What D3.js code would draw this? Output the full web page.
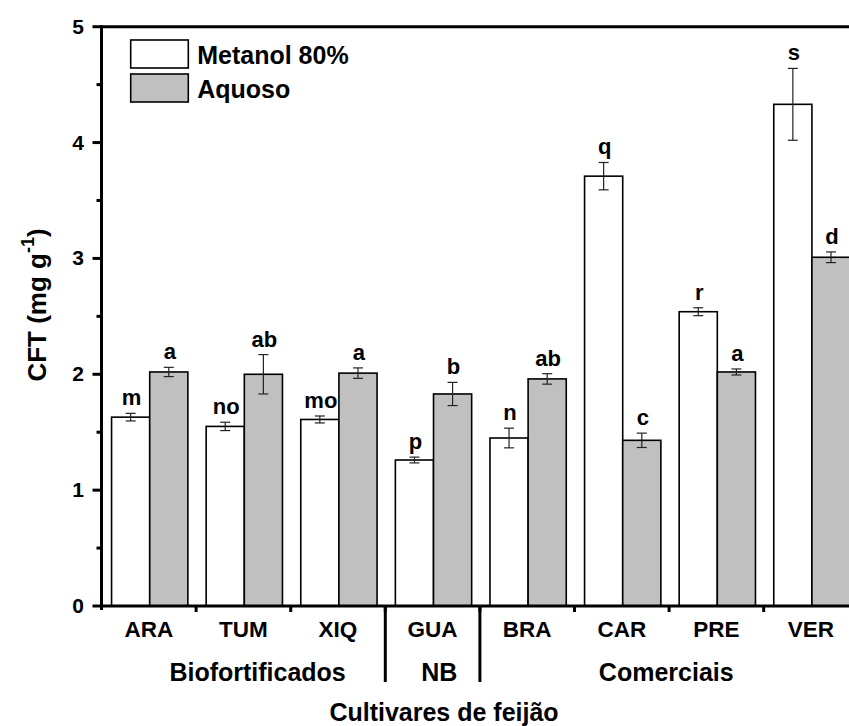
<!DOCTYPE html>
<html>
<head>
<meta charset="utf-8">
<script src="https://cdn.jsdelivr.net/npm/d3@7"></script>
<style>
  html, body { margin: 0; padding: 0; background: #fff; }
  svg { display: block; }
  text { font-family: "Liberation Sans", Arial, sans-serif; font-weight: bold; fill: #000; }
</style>
</head>
<body>
<svg id="chart" width="849" height="726"></svg>
<script>
// ---- data ----
const categories = ["ARA", "TUM", "XIQ", "GUA", "BRA", "CAR", "PRE", "VER"];
const seriesNames = ["Metanol 80%", "Aquoso"];
const metanol    = [1.63, 1.55, 1.61, 1.26, 1.45, 3.71, 2.54, 4.33];
const metanolErr = [0.033, 0.036, 0.030, 0.025, 0.085, 0.118, 0.034, 0.31];
const aquoso     = [2.02, 2.00, 2.01, 1.83, 1.96, 1.43, 2.02, 3.01];
const aquosoErr  = [0.040, 0.170, 0.045, 0.100, 0.045, 0.062, 0.026, 0.046];
const metanolLetters = ["m", "no", "mo", "p", "n", "q", "r", "s"];
const aquosoLetters  = ["a", "ab", "a", "b", "ab", "c", "a", "d"];
const groups      = ["Biofortificados", "NB", "Comerciais"];
const groupStart  = [0, 3, 4];
const groupEnd    = [3, 4, 8];
const groupAnchor = [1.65, 3.57, 5.97]; // label centre, in category units
const yTicks      = [0, 1, 2, 3, 4, 5];
const yMinorTicks = [0.5, 1.5, 2.5, 3.5, 4.5];
const xTitle = "Cultivares de feijão";

(function () {
// ---- layout ----
const svg = d3.select("#chart");
const pLeft = 101.5, pRight = 858.3, pTop = 26.7, pBottom = 606;

const x = d3.scaleBand().domain(categories).range([pLeft, pRight]).padding(0);
const xu = d3.scaleLinear().domain([0, categories.length]).range([pLeft, pRight]);
const xs = d3.scaleBand().domain(seriesNames).range([0, x.bandwidth()])
  .paddingInner(0).paddingOuter(0.24).align(0.55);
const y = d3.scaleLinear().domain([0, 5]).range([pBottom, pTop]);
const color = d3.scaleOrdinal().domain(seriesNames).range(["#ffffff", "#c0c0c0"]);

const rows = categories.map((c, i) => ({
  cat: c,
  bars: [
    { s: seriesNames[0], v: metanol[i], e: metanolErr[i], l: metanolLetters[i] },
    { s: seriesNames[1], v: aquoso[i], e: aquosoErr[i], l: aquosoLetters[i] }
  ]
}));

// bars
const g = svg.append("g");
const cat = g.selectAll("g.cat").data(rows).join("g")
  .attr("class", "cat")
  .attr("transform", d => `translate(${x(d.cat)},0)`);
cat.selectAll("rect").data(d => d.bars).join("rect")
  .attr("x", d => xs(d.s))
  .attr("y", d => y(d.v))
  .attr("width", xs.bandwidth())
  .attr("height", d => y(0) - y(d.v))
  .attr("fill", d => color(d.s))
  .attr("stroke", "#000")
  .attr("stroke-width", 1.6);

// error bars
const cx = d => xs(d.s) + xs.bandwidth() / 2;
const eb = cat.selectAll("g.err").data(d => d.bars).join("g")
  .attr("class", "err")
  .attr("stroke", "#222").attr("stroke-width", 1.2);
eb.append("line")
  .attr("x1", cx).attr("x2", cx)
  .attr("y1", d => y(d.v + d.e)).attr("y2", d => y(d.v - d.e));
eb.append("line")
  .attr("x1", d => cx(d) - 5).attr("x2", d => cx(d) + 5)
  .attr("y1", d => y(d.v + d.e)).attr("y2", d => y(d.v + d.e));
eb.append("line")
  .attr("x1", d => cx(d) - 5).attr("x2", d => cx(d) + 5)
  .attr("y1", d => y(d.v - d.e)).attr("y2", d => y(d.v - d.e));

// letters
cat.selectAll("text.lt").data(d => d.bars).join("text")
  .attr("class", "lt")
  .attr("x", d => cx(d) + 1)
  .attr("y", d => y(d.v + d.e) - 8)
  .attr("text-anchor", "middle")
  .attr("font-size", 22)
  .text(d => d.l);

// ---- axes ----
const axisW = 3;
svg.append("line").attr("x1", pLeft).attr("x2", pRight).attr("y1", pTop).attr("y2", pTop)
  .attr("stroke", "#000").attr("stroke-width", axisW);
svg.append("line").attr("x1", pLeft).attr("x2", pRight).attr("y1", pBottom).attr("y2", pBottom)
  .attr("stroke", "#000").attr("stroke-width", axisW);
svg.append("line").attr("x1", pLeft).attr("x2", pLeft).attr("y1", pTop - 1.5).attr("y2", pBottom + 4)
  .attr("stroke", "#000").attr("stroke-width", axisW);

// y ticks
svg.selectAll("line.ymaj").data(yTicks).join("line")
  .attr("class", "ymaj")
  .attr("x1", pLeft - 9).attr("x2", pLeft).attr("y1", d => y(d)).attr("y2", d => y(d))
  .attr("stroke", "#000").attr("stroke-width", axisW);
svg.selectAll("line.ymin").data(yMinorTicks).join("line")
  .attr("class", "ymin")
  .attr("x1", pLeft - 5).attr("x2", pLeft).attr("y1", d => y(d)).attr("y2", d => y(d))
  .attr("stroke", "#000").attr("stroke-width", axisW);
svg.selectAll("text.ytl").data(yTicks).join("text")
  .attr("class", "ytl")
  .attr("x", 84).attr("y", d => y(d) + 7)
  .attr("text-anchor", "end").attr("font-size", 21)
  .text(d => d);

// x ticks at category boundaries
const bounds = d3.range(1, categories.length);
svg.selectAll("line.xt").data(bounds).join("line")
  .attr("class", "xt")
  .attr("x1", d => xu(d)).attr("x2", d => xu(d))
  .attr("y1", pBottom).attr("y2", pBottom + 6)
  .attr("stroke", "#000").attr("stroke-width", axisW);

// group separators
const seps = groupEnd.slice(0, groupEnd.length - 1);
svg.selectAll("line.sep").data(seps).join("line")
  .attr("class", "sep")
  .attr("x1", d => xu(d)).attr("x2", d => xu(d))
  .attr("y1", pBottom).attr("y2", 682)
  .attr("stroke", "#000").attr("stroke-width", axisW);

// category labels
svg.selectAll("text.cl").data(categories).join("text")
  .attr("class", "cl")
  .attr("x", d => x(d) + x.bandwidth() / 2)
  .attr("y", 637)
  .attr("text-anchor", "middle").attr("font-size", 22.5)
  .text(d => d);

// group labels
svg.selectAll("text.gl").data(groups).join("text")
  .attr("class", "gl")
  .attr("x", (d, i) => xu(groupAnchor[i]))
  .attr("y", 681)
  .attr("text-anchor", "middle").attr("font-size", 25)
  .text(d => d);

// x title
svg.append("text").attr("x", 444).attr("y", 721)
  .attr("text-anchor", "middle").attr("font-size", 25).text(xTitle);

// y title
const yt = svg.append("text")
  .attr("transform", "translate(46,305) rotate(-90)")
  .attr("text-anchor", "middle").attr("font-size", 26);
yt.append("tspan").text("CFT (mg g");
yt.append("tspan").attr("font-size", 18).attr("dy", -12).text("-1");
yt.append("tspan").attr("dy", 12).text(")");

// legend
const lgItems = svg.append("g").selectAll("g").data(seriesNames).join("g")
  .attr("transform", (d, i) => `translate(130.7,${40 + i * 34})`);
lgItems.append("rect").attr("width", 57.6).attr("height", 28)
  .attr("fill", d => color(d)).attr("stroke", "#000").attr("stroke-width", 1.6);
lgItems.append("text").attr("x", 66.5).attr("y", 24).attr("font-size", 25).text(d => d);
})();
</script>
</body>
</html>
